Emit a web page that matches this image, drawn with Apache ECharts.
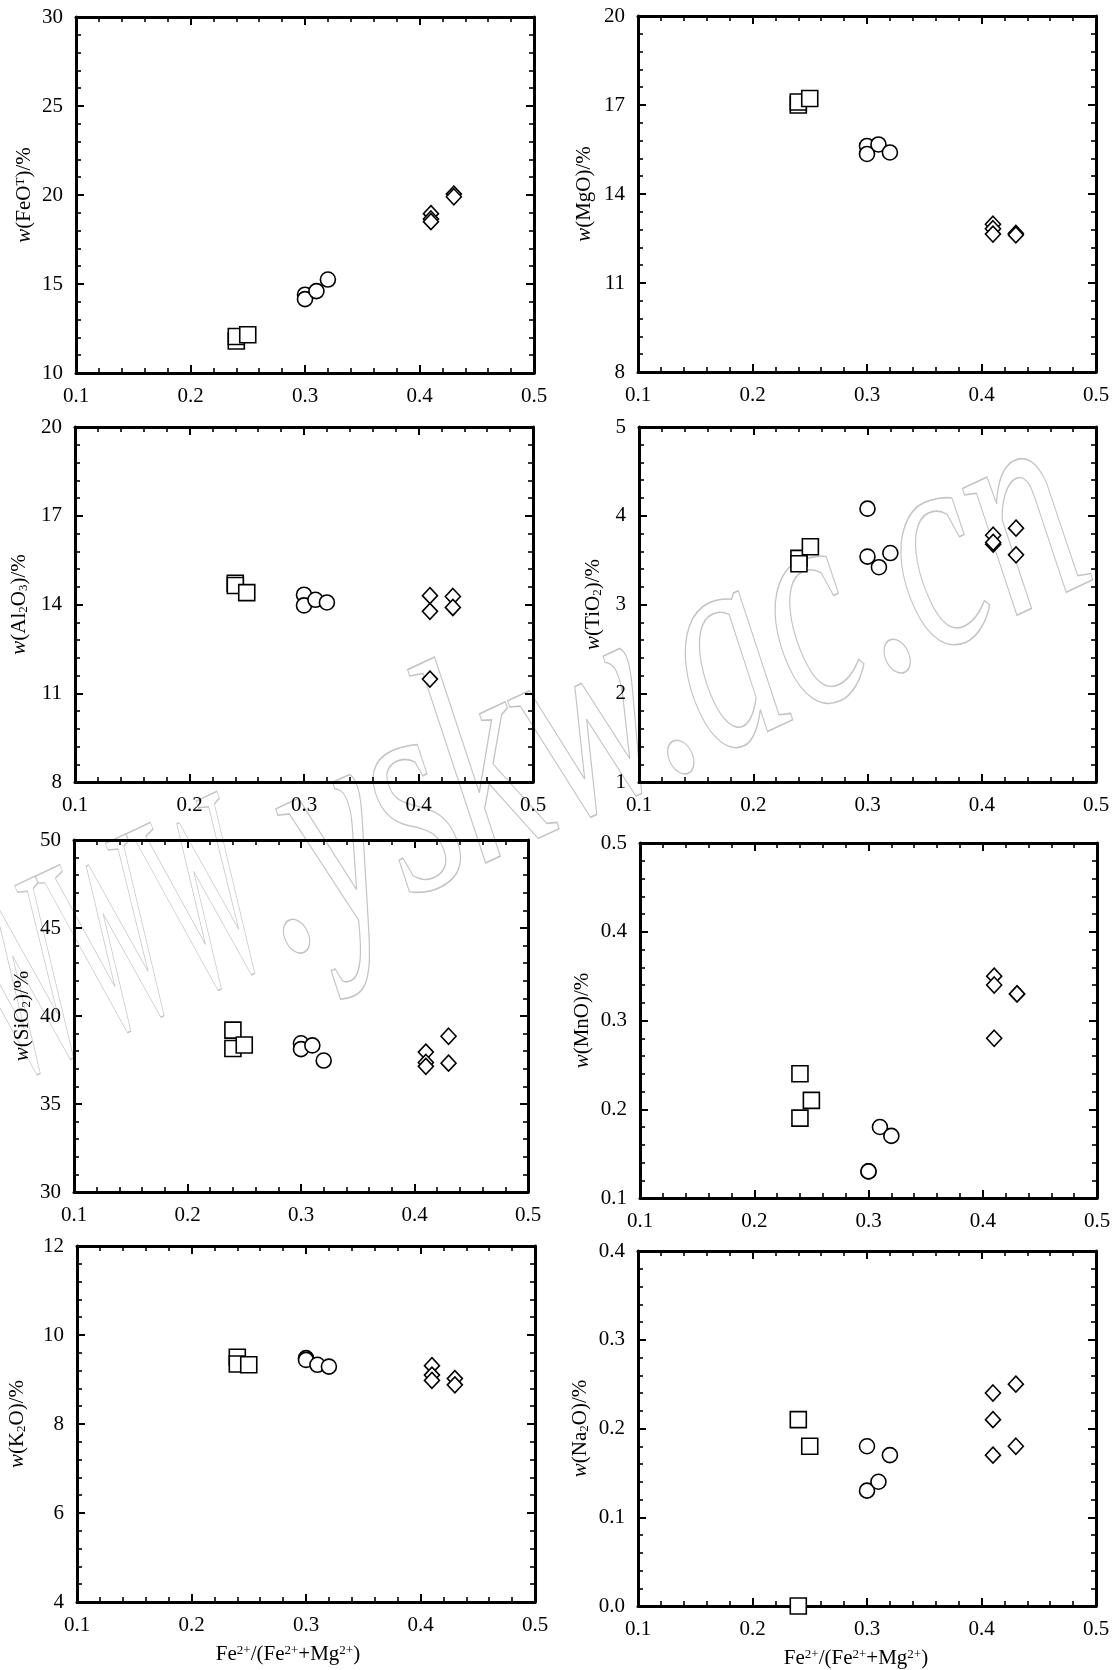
<!DOCTYPE html>
<html>
<head>
<meta charset="utf-8">
<script src="https://cdn.jsdelivr.net/npm/echarts@6/dist/echarts.min.js"></script>
<style>
  html, body { margin: 0; padding: 0; background: #fff; }
  #chart { width: 1120px; height: 1670px; }
</style>
</head>
<body>
<div id="chart"></div>
<script>
// Fe2+/(Fe2++Mg2+) of each analysed biotite, one array per symbol group
const ratioSquare  = [0.24, 0.24, 0.25];
const ratioCircle  = [0.30, 0.30, 0.31, 0.32];
const ratioDiamond = [0.41, 0.41, 0.41, 0.43, 0.43];

const ratioTicks = [0.1, 0.2, 0.3, 0.4, 0.5];

// oxide contents, wt%
const feoSquare  = [11.8, 12.05, 12.15];
const feoCircle  = [14.4, 14.15, 14.6, 15.25];
const feoDiamond = [18.95, 18.65, 18.5, 20.05, 19.9];
const feoTicks   = [10, 15, 20, 25, 30];

const mgoSquare  = [17.0, 17.1, 17.22];
const mgoCircle  = [15.62, 15.35, 15.67, 15.4];
const mgoDiamond = [12.98, 12.83, 12.65, 12.67, 12.62];
const mgoTicks   = [8, 11, 14, 17, 20];

const al2o3Square  = [14.72, 14.64, 14.4];
const al2o3Circle  = [14.33, 13.97, 14.16, 14.07];
const al2o3Diamond = [14.3, 13.77, 11.48, 14.27, 13.9];
const al2o3Ticks   = [8, 11, 14, 17, 20];

const tio2Square  = [3.52, 3.46, 3.65];
const tio2Circle  = [4.08, 3.54, 3.42, 3.58];
const tio2Diamond = [3.78, 3.68, 3.7, 3.86, 3.56];
const tio2Ticks   = [1, 2, 3, 4, 5];

const sio2Square  = [39.2, 38.15, 38.35];
const sio2Circle  = [38.45, 38.12, 38.33, 37.47];
const sio2Diamond = [37.95, 37.36, 37.14, 38.85, 37.32];
const sio2Ticks   = [30, 35, 40, 45, 50];

const mnoSquare  = [0.24, 0.19, 0.21];
const mnoCircle  = [0.13, 0.13, 0.18, 0.17];
const mnoDiamond = [0.35, 0.34, 0.28, 0.33, 0.33];
const mnoTicks   = [0.1, 0.2, 0.3, 0.4, 0.5];

const k2oSquare  = [9.5, 9.35, 9.33];
const k2oCircle  = [9.48, 9.44, 9.33, 9.29];
const k2oDiamond = [9.31, 9.1, 8.98, 9.02, 8.88];
const k2oTicks   = [4, 6, 8, 10, 12];

const na2oSquare  = [0.21, 0.0, 0.18];
const na2oCircle  = [0.18, 0.13, 0.14, 0.17];
const na2oDiamond = [0.24, 0.21, 0.17, 0.25, 0.18];
const na2oTicks   = [0.0, 0.1, 0.2, 0.3, 0.4];

const yTitles = [
  '{i|w}(FeO{sup|T})/%',
  '{i|w}(MgO)/%',
  '{i|w}(Al{sub|2}O{sub|3})/%',
  '{i|w}(TiO{sub|2})/%',
  '{i|w}(SiO{sub|2})/%',
  '{i|w}(MnO)/%',
  '{i|w}(K{sub|2}O)/%',
  '{i|w}(Na{sub|2}O)/%'
];
const xTitle = 'Fe{sup|2+}/(Fe{sup|2+}+Mg{sup|2+})';

const panels = [
  { sq: feoSquare,   ci: feoCircle,   di: feoDiamond,   ticks: feoTicks,   digits: 0 },
  { sq: mgoSquare,   ci: mgoCircle,   di: mgoDiamond,   ticks: mgoTicks,   digits: 0 },
  { sq: al2o3Square, ci: al2o3Circle, di: al2o3Diamond, ticks: al2o3Ticks, digits: 0 },
  { sq: tio2Square,  ci: tio2Circle,  di: tio2Diamond,  ticks: tio2Ticks,  digits: 0 },
  { sq: sio2Square,  ci: sio2Circle,  di: sio2Diamond,  ticks: sio2Ticks,  digits: 0 },
  { sq: mnoSquare,   ci: mnoCircle,   di: mnoDiamond,   ticks: mnoTicks,   digits: 1 },
  { sq: k2oSquare,   ci: k2oCircle,   di: k2oDiamond,   ticks: k2oTicks,   digits: 0 },
  { sq: na2oSquare,  ci: na2oCircle,  di: na2oDiamond,  ticks: na2oTicks,  digits: 1 }
];

// plot frames (px), y-title distance and x-title shift for each panel
const boxes = [
  { left: 76,  top: 17,   width: 458, height: 356, nameGap: 41 },
  { left: 638, top: 16,   width: 458, height: 356, nameGap: 43 },
  { left: 75,  top: 427,  width: 458, height: 355, nameGap: 45 },
  { left: 639, top: 427,  width: 457, height: 355, nameGap: 35 },
  { left: 74,  top: 840,  width: 454, height: 352, nameGap: 41 },
  { left: 640, top: 843,  width: 457, height: 355, nameGap: 47 },
  { left: 77,  top: 1246, width: 458, height: 356, nameGap: 49, titlePadRight: 36 },
  { left: 638, top: 1251, width: 458, height: 355, nameGap: 47, titlePadRight: 22 }
];

const FONT = '"Liberation Serif", "Times New Roman", serif';
const richY = {
  i:   { fontFamily: FONT, fontStyle: 'italic', fontSize: 21, color: '#000' },
  sup: { fontFamily: FONT, fontSize: 13, color: '#000', verticalAlign: 'top' },
  sub: { fontFamily: FONT, fontSize: 13, color: '#000', verticalAlign: 'bottom' }
};
const richX = {
  sup: { fontFamily: FONT, fontSize: 13, color: '#000', verticalAlign: 'top' }
};

function axisCommon(showLabel, digits) {
  return {
    axisLine: { show: true, onZero: false, lineStyle: { color: '#000', width: 3 } },
    axisTick: { show: true, inside: true, length: 8, lineStyle: { color: '#000', width: 2 } },
    minorTick: { show: true, splitNumber: 5, length: 5, lineStyle: { color: '#000', width: 1.6 } },
    splitLine: { show: false },
    minorSplitLine: { show: false },
    axisLabel: {
      show: showLabel,
      color: '#000',
      fontFamily: FONT,
      fontSize: 21,
      margin: 13,
      formatter: v => Number(v).toFixed(digits)
    }
  };
}

const grid = [], xAxis = [], yAxis = [], series = [];
panels.forEach((p, k) => {
  const b = boxes[k];
  grid.push({ left: b.left, top: b.top, width: b.width, height: b.height, containLabel: false });

  const xMin = ratioTicks[0], xMax = ratioTicks[ratioTicks.length - 1];
  const xInt = +(ratioTicks[1] - ratioTicks[0]).toFixed(6);
  const yMin = p.ticks[0], yMax = p.ticks[p.ticks.length - 1];
  const yInt = +(p.ticks[1] - p.ticks[0]).toFixed(6);
  const bottomRow = k >= 6;

  xAxis.push(Object.assign(axisCommon(true, 1), {
    type: 'value', gridIndex: k, position: 'bottom', min: xMin, max: xMax, interval: xInt,
    name: bottomRow ? xTitle : '', nameLocation: 'middle', nameGap: 42,
    nameTextStyle: {
      fontFamily: FONT, fontSize: 21, color: '#000', rich: richX,
      padding: [0, b.titlePadRight || 0, 0, 0]
    }
  }));
  xAxis.push(Object.assign(axisCommon(false, 1), {
    type: 'value', gridIndex: k, position: 'top', min: xMin, max: xMax, interval: xInt
  }));
  yAxis.push(Object.assign(axisCommon(true, p.digits), {
    type: 'value', gridIndex: k, position: 'left', min: yMin, max: yMax, interval: yInt,
    name: yTitles[k], nameLocation: 'middle', nameRotate: 90, nameGap: b.nameGap,
    nameTextStyle: { fontFamily: FONT, fontSize: 21, color: '#000', rich: richY }
  }));
  yAxis.push(Object.assign(axisCommon(false, p.digits), {
    type: 'value', gridIndex: k, position: 'right', min: yMin, max: yMax, interval: yInt
  }));

  const marker = {
    type: 'scatter', xAxisIndex: 2 * k, yAxisIndex: 2 * k, clip: false, z: 5,
    itemStyle: { color: '#fff', borderColor: '#000', borderWidth: 1.6, opacity: 1 },
    emphasis: { disabled: true }
  };
  series.push(Object.assign({}, marker, {
    symbol: 'rect', symbolSize: 16,
    data: ratioSquare.map((x, i) => [x, p.sq[i]])
  }));
  series.push(Object.assign({}, marker, {
    symbol: 'circle', symbolSize: 15,
    data: ratioCircle.map((x, i) => [x, p.ci[i]])
  }));
  series.push(Object.assign({}, marker, {
    symbol: 'diamond', symbolSize: [15, 16],
    data: ratioDiamond.map((x, i) => [x, p.di[i]])
  }));
});

// faint outlined site mark running diagonally across the sheet;
// the group origin sits on the text baseline at the first full stop
const MARK_FONT = 'italic 200px "Liberation Serif"';
const markStyle = { fill: 'rgba(0,0,0,0)', stroke: '#c4c4c4', lineWidth: 1.1, strokeNoScale: true, font: MARK_FONT };
const watermark = {
  type: 'group', x: 300, y: 932, rotation: 25 * Math.PI / 180, silent: true, z: -10,
  children: [
    {
      type: 'text', scaleX: 0.6, scaleY: 1.35, silent: true,
      style: Object.assign({ text: 'WWW', x: -25 / 0.6, y: -42, align: 'right', verticalAlign: 'middle' }, markStyle)
    },
    {
      type: 'text', scaleY: 1.5, silent: true,
      style: Object.assign({ text: '.yskw.ac.cn', x: -25, y: -42, align: 'left', verticalAlign: 'middle' }, markStyle)
    }
  ]
};

const chart = echarts.init(document.getElementById('chart'), null, { renderer: 'canvas' });
chart.setOption({
  backgroundColor: '#fff',
  animation: false,
  grid, xAxis, yAxis, series,
  graphic: [watermark]
});
</script>
</body>
</html>
